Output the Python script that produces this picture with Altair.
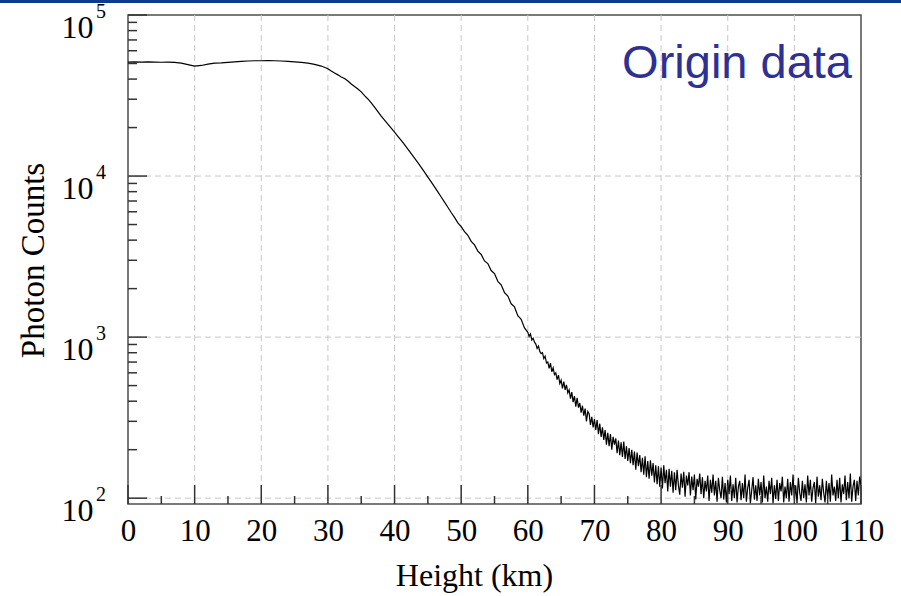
import altair as alt
import pandas as pd

# ---- data ----
# 0-30 km, 1 km step
low_counts = [51000, 51200, 51000, 51100, 51000, 50900, 51000, 50800, 50300, 49200,
              48200, 48600, 49500, 50200, 50400, 50800, 51200, 51500, 51800, 52000,
              52000, 52100, 52000, 51800, 51500, 51100, 50800, 50200, 49400, 48200,
              46400]
# 30.5-60 km, 0.5 km step
mid_counts = [44900, 43600, 42500, 41200, 40300, 38900, 37300, 36000, 34700, 33300,
              31600, 30100, 28500, 26800, 25100, 23550, 22230, 20990, 19820, 18710,
              17660, 16630, 15670, 14720, 13800, 12940, 12110, 11320, 10570, 9860,
              9200, 8570, 7980, 7410, 6890, 6400, 5940, 5540, 5120, 4850,
              4520, 4290, 3930, 3740, 3420, 3260, 2970, 2860, 2590, 2480,
              2220, 2110, 1890, 1800, 1610, 1540, 1360, 1290, 1140, 1070]
# 60.2-110 km, 0.2 km step
tail_counts = [1010, 1045, 960, 985, 930, 905, 850, 880, 815, 790,
               800, 735, 760, 690, 700, 640, 690, 610, 645, 585,
               600, 545, 580, 515, 540, 480, 530, 470, 505, 450,
               470, 415, 455, 395, 430, 370, 420, 365, 390, 340,
               375, 325, 360, 300, 345, 335, 285, 320, 275, 310,
               265, 305, 250, 290, 240, 275, 230, 265, 215, 255,
               210, 250, 200, 240, 215, 235, 190, 228, 185, 222,
               180, 225, 175, 210, 170, 205, 165, 200, 160, 195,
               150, 192, 158, 185, 145, 178, 140, 182, 135, 170,
               132, 172, 138, 165, 125, 160, 122, 158, 118, 155,
               115, 160, 124, 150, 110, 152, 118, 148, 108, 145,
               112, 150, 120, 105, 142, 116, 146, 102, 138, 120,
               145, 104, 136, 112, 140, 98, 132, 118, 142, 106,
               135, 100, 128, 110, 138, 96, 130, 108, 140, 104,
               128, 95, 134, 112, 100, 136, 98, 124, 94, 130,
               106, 138, 96, 122, 100, 134, 94, 118, 128, 97,
               124, 100, 140, 95, 116, 130, 93, 112, 135, 98,
               120, 96, 132, 104, 126, 94, 138, 100, 118, 95,
               128, 106, 134, 93, 120, 99, 130, 96, 124, 110,
               136, 94, 118, 100, 132, 95, 126, 104, 140, 98,
               120, 93, 134, 108, 96, 128, 100, 122, 94, 138,
               104, 130, 95, 116, 126, 93, 136, 102, 120, 97,
               132, 108, 94, 128, 100, 124, 95, 140, 104, 118,
               96, 130, 100, 134, 94, 122, 106, 138, 97, 126,
               100, 142, 95, 118, 130, 96, 128, 104, 136, 120]

low_heights = [float(i) for i in range(len(low_counts))]
mid_heights = [30.0 + 0.5 * (i + 1) for i in range(len(mid_counts))]
tail_heights = [round(60.0 + 0.2 * (i + 1), 2) for i in range(len(tail_counts))]

x_major = [0, 10, 20, 30, 40, 50, 60, 70, 80, 90, 100, 110]
x_minor = [5, 15, 25, 35, 45, 55, 65, 75, 85, 95, 105]
x_grid = [10, 20, 30, 40, 50, 60, 70, 80, 90, 100]
y_major = [100, 1000, 10000, 100000]
y_minor = [200, 300, 400, 500, 600, 700, 800, 900,
           2000, 3000, 4000, 5000, 6000, 7000, 8000, 9000,
           20000, 30000, 40000, 50000, 60000, 70000, 80000, 90000]
y_grid = [100, 1000, 10000]
exponents = ["2", "3", "4", "5"]

W, H = 733, 489
SERIF = "Liberation Serif"

df = pd.DataFrame({"h": low_heights + mid_heights + tail_heights,
                   "c": low_counts + mid_counts + tail_counts})

xs = alt.Scale(domain=[0, 110], nice=False, zero=False)
ys = alt.Scale(type="log", domain=[92, 100000], nice=False)

x_axis = alt.Axis(values=x_major, grid=False, ticks=False, tickSize=0, domain=False,
                  labelFont=SERIF, labelFontSize=31, labelColor="black", labelPadding=12,
                  labelFlush=False, labelOverlap=False,
                  title="Height (km)", titleFont=SERIF, titleFontSize=32, titleFontWeight="normal",
                  titleColor="black", titleX=346, titleY=81, titleBaseline="alphabetic",
                  titleAlign="center")
y_axis = alt.Axis(values=y_major, labelExpr="'10'", grid=False, ticks=False, tickSize=0,
                  domain=False, labelFont=SERIF, labelFontSize=32, labelColor="black",
                  labelPadding=35, labelBaseline="alphabetic", labelOffset=22,
                  labelOverlap=False, labelBound=False, labelFlush=False,
                  title="Photon Counts", titleFont=SERIF, titleFontSize=33,
                  titleFontWeight="normal", titleColor="black", titleX=-85, titleY=245,
                  titleBaseline="alphabetic", titleAlign="center", titleAngle=270)

grid_x = alt.Chart(pd.DataFrame({"h": x_grid})).mark_rule(
    color="#c8c8c8", strokeWidth=1, strokeDash=[6, 4]).encode(
    x=alt.X("h:Q", scale=xs, axis=x_axis))
grid_y = alt.Chart(pd.DataFrame({"c": y_grid})).mark_rule(
    color="#c8c8c8", strokeWidth=1, strokeDash=[6, 4]).encode(
    y=alt.Y("c:Q", scale=ys, axis=y_axis))

line = alt.Chart(df).mark_line(color="black", strokeWidth=1.2, clip=True).encode(
    x=alt.X("h:Q", scale=xs, axis=x_axis),
    y=alt.Y("c:Q", scale=ys, axis=y_axis),
    order="h:Q")

tick_col = "#333333"
xt_major = alt.Chart(pd.DataFrame({"h": x_major})).mark_rule(color=tick_col, strokeWidth=1.5).encode(
    x=alt.X("h:Q", scale=xs, axis=x_axis), y=alt.value(H), y2=alt.value(H - 19))
xt_minor = alt.Chart(pd.DataFrame({"h": x_minor})).mark_rule(color=tick_col, strokeWidth=1.5).encode(
    x=alt.X("h:Q", scale=xs, axis=x_axis), y=alt.value(H), y2=alt.value(H - 8))
yt_major = alt.Chart(pd.DataFrame({"c": y_major})).mark_rule(color=tick_col, strokeWidth=1.5).encode(
    y=alt.Y("c:Q", scale=ys, axis=y_axis), x=alt.value(0), x2=alt.value(19))
yt_minor = alt.Chart(pd.DataFrame({"c": y_minor})).mark_rule(color=tick_col, strokeWidth=1.5).encode(
    y=alt.Y("c:Q", scale=ys, axis=y_axis), x=alt.value(0), x2=alt.value(9))

exp_text = alt.Chart(pd.DataFrame({"c": y_major, "e": exponents})).mark_text(
    align="left", baseline="alphabetic", dy=3, fontSize=20, font=SERIF, color="black").encode(
    y=alt.Y("c:Q", scale=ys, axis=y_axis), x=alt.value(-32), text="e:N")

label = alt.Chart(pd.DataFrame({"t": ["Origin data"]})).mark_text(
    align="right", baseline="alphabetic", fontSize=47, font="Liberation Sans",
    color="#2e3192").encode(x=alt.value(724), y=alt.value(63), text="t:N")

bar = alt.Chart(pd.DataFrame({"t": ["bar"]})).mark_rect(color="#0d3b8e").encode(
    x=alt.value(-128), x2=alt.value(W + 40), y=alt.value(-15), y2=alt.value(-12))

chart = alt.layer(grid_x, grid_y, line, xt_major, xt_minor, yt_major, yt_minor,
                  exp_text, label, bar).properties(
    width=W, height=H,
    padding={"left": 128, "top": 15, "right": 40, "bottom": 92},
    autosize=alt.AutoSizeParams(type="none"),
    background="white",
).configure_view(stroke="#4d4d4d", strokeWidth=1.5)

chart.save("out.html", embed_options={"renderer": "svg", "actions": False})
